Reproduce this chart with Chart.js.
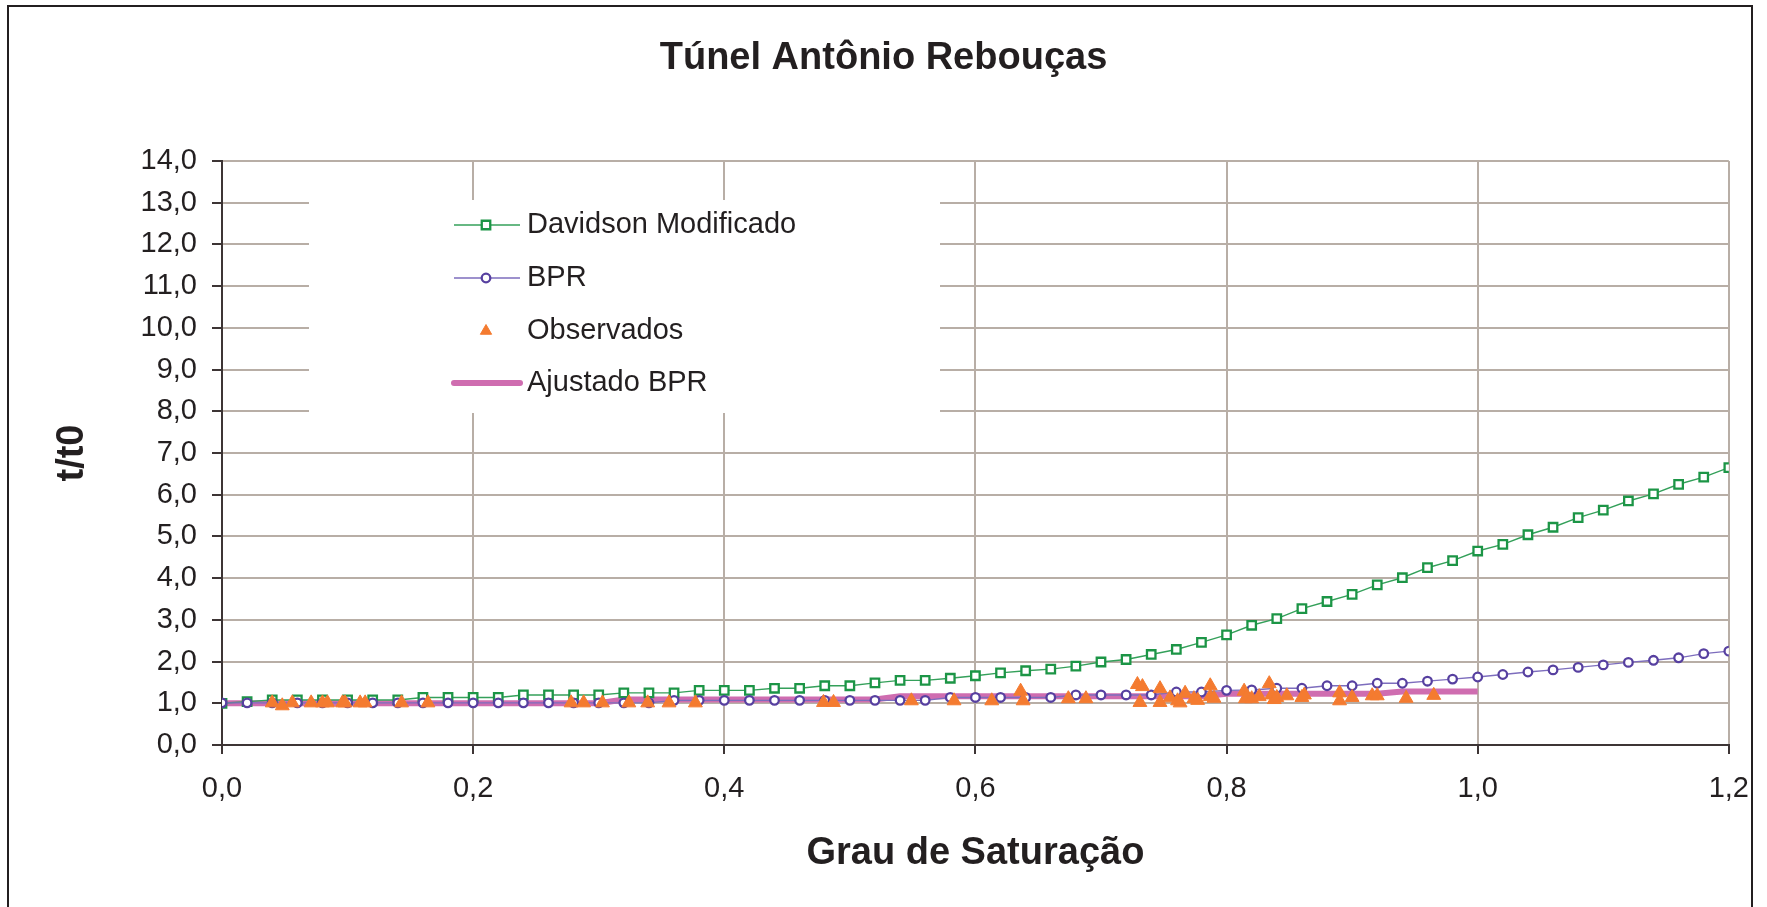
<!DOCTYPE html>
<html>
<head>
<meta charset="utf-8">
<title>Túnel Antônio Rebouças</title>
<script src="https://cdn.jsdelivr.net/npm/chart.js@4/dist/chart.umd.min.js"></script>
<style>
  html, body { margin: 0; padding: 0; background: #ffffff; }
  #wrap { width: 1767px; height: 907px; }
</style>
</head>
<body>
<div id="wrap"><canvas id="grafico" width="1767" height="907"></canvas></div>
<script>
// grau de saturacao (eixo x) usado pelas curvas teoricas
const saturacao = [
  0.00, 0.02, 0.04, 0.06, 0.08, 0.10, 0.12, 0.14, 0.16, 0.18,
  0.20, 0.22, 0.24, 0.26, 0.28, 0.30, 0.32, 0.34, 0.36, 0.38,
  0.40, 0.42, 0.44, 0.46, 0.48, 0.50, 0.52, 0.54, 0.56, 0.58,
  0.60, 0.62, 0.64, 0.66, 0.68, 0.70, 0.72, 0.74, 0.76, 0.78,
  0.80, 0.82, 0.84, 0.86, 0.88, 0.90, 0.92, 0.94, 0.96, 0.98,
  1.00, 1.02, 1.04, 1.06, 1.08, 1.10, 1.12, 1.14, 1.16, 1.18, 1.20
];

const davidson = [
  1.00, 1.04, 1.08, 1.08, 1.08, 1.08, 1.08, 1.08, 1.14, 1.14,
  1.14, 1.14, 1.20, 1.20, 1.20, 1.20, 1.25, 1.25, 1.25, 1.31,
  1.31, 1.31, 1.36, 1.36, 1.42, 1.42, 1.49, 1.55, 1.55, 1.60,
  1.66, 1.73, 1.78, 1.82, 1.89, 1.99, 2.05, 2.17, 2.29, 2.46,
  2.64, 2.87, 3.03, 3.27, 3.44, 3.61, 3.84, 4.01, 4.25, 4.42,
  4.65, 4.81, 5.04, 5.22, 5.45, 5.63, 5.85, 6.02, 6.25, 6.42, 6.65
];

const bpr = [
  1.01, 1.01, 1.01, 1.01, 1.01, 1.01, 1.01, 1.01, 1.01, 1.01,
  1.01, 1.01, 1.01, 1.01, 1.01, 1.01, 1.01, 1.01, 1.07, 1.07,
  1.07, 1.07, 1.07, 1.07, 1.07, 1.07, 1.07, 1.07, 1.07, 1.14,
  1.14, 1.14, 1.14, 1.14, 1.20, 1.20, 1.20, 1.20, 1.27, 1.27,
  1.31, 1.32, 1.36, 1.36, 1.42, 1.42, 1.48, 1.48, 1.53, 1.58,
  1.63, 1.69, 1.75, 1.80, 1.86, 1.92, 1.98, 2.03, 2.09, 2.19, 2.25
];

// ajuste so vai ate saturacao 1,0
const ajustado = [
  1.00, 1.00, 1.00, 1.00, 1.00, 1.00, 1.00, 1.00, 1.00, 1.00,
  1.00, 1.00, 1.00, 1.00, 1.00, 1.00, 1.09, 1.09, 1.09, 1.09,
  1.09, 1.09, 1.09, 1.09, 1.09, 1.09, 1.09, 1.17, 1.17, 1.17,
  1.17, 1.17, 1.17, 1.17, 1.17, 1.17, 1.17, 1.17, 1.17, 1.17,
  1.23, 1.23, 1.23, 1.23, 1.23, 1.23, 1.23, 1.28, 1.28, 1.28, 1.28
];

// pontos observados em campo
const obsX = [
  0.040, 0.048, 0.056, 0.071, 0.080, 0.084, 0.096, 0.098, 0.110, 0.114,
  0.143, 0.164, 0.278, 0.288, 0.303, 0.324, 0.339, 0.356, 0.377,
  0.479, 0.487, 0.549, 0.583, 0.613, 0.636, 0.638, 0.674, 0.688,
  0.729, 0.733, 0.731, 0.747, 0.747, 0.755, 0.761, 0.763, 0.767, 0.774,
  0.777, 0.787, 0.787, 0.790,
  0.814, 0.815, 0.820, 0.826, 0.834, 0.836, 0.838, 0.840, 0.848, 0.860,
  0.862, 0.890, 0.890, 0.900, 0.916, 0.920, 0.943, 0.965
];
const obsY = [
  1.01, 0.94, 1.01, 1.01, 1.01, 1.01, 1.01, 1.01, 1.01, 1.01,
  1.01, 1.01, 1.01, 1.01, 1.01, 1.01, 1.01, 1.01, 1.01,
  1.02, 1.02, 1.06, 1.06, 1.06, 1.29, 1.06, 1.11, 1.11,
  1.45, 1.40, 1.02, 1.35, 1.02, 1.13, 1.06, 1.01, 1.24, 1.11,
  1.07, 1.42, 1.16, 1.12,
  1.29, 1.11, 1.11, 1.16, 1.47, 1.20, 1.09, 1.14, 1.18, 1.14,
  1.20, 1.25, 1.06, 1.14, 1.18, 1.18, 1.12, 1.19
];

const fonte = '"Liberation Sans", Arial, sans-serif';
const corTexto = '#231f20';

function pares(xs, ys) {
  return ys.map((v, i) => ({ x: xs[i], y: v }));
}

function virgula(value) {
  return Number(value).toFixed(1).replace('.', ',');
}

// moldura preta em volta do grafico
const moldura = {
  id: 'moldura',
  beforeDraw(chart) {
    const ctx = chart.ctx;
    ctx.save();
    ctx.fillStyle = '#ffffff';
    ctx.fillRect(0, 0, chart.width, chart.height);
    ctx.strokeStyle = '#231f20';
    ctx.lineWidth = 2;
    ctx.strokeRect(8, 6, 1744, 940);
    ctx.restore();
  }
};

// legenda dentro da area do grafico, com fundo branco
const legendaCaixa = {
  id: 'legendaCaixa',
  beforeDatasetsDraw(chart) {
    const ctx = chart.ctx;
    const linhas = [225, 278, 331, 383];
    ctx.save();
    ctx.fillStyle = '#ffffff';
    ctx.fillRect(309, 200, 631, 213);

    chart.data.datasets.forEach((ds, k) => {
      const y = linhas[k];
      if (ds.showLine !== false) {
        ctx.beginPath();
        ctx.strokeStyle = ds.borderColor;
        ctx.lineWidth = ds.borderWidth;
        ctx.lineCap = ds.borderWidth > 2 ? 'round' : 'butt';
        ctx.moveTo(454, y);
        ctx.lineTo(520, y);
        ctx.stroke();
      }
      if (ds.pointRadius > 0) {
        const r = ds.pointStyle === 'triangle' ? 6.5 : ds.pointRadius;
        ctx.fillStyle = ds.pointBackgroundColor;
        ctx.strokeStyle = ds.pointBorderColor;
        ctx.lineWidth = ds.pointBorderWidth;
        ctx.beginPath();
        Chart.helpers.drawPoint(ctx, {
          pointStyle: ds.pointStyle,
          radius: r,
          borderWidth: ds.pointBorderWidth
        }, 486, y);
      }
      ctx.fillStyle = corTexto;
      ctx.font = '29px ' + fonte;
      ctx.textAlign = 'left';
      ctx.textBaseline = 'middle';
      ctx.fillText(ds.label, 527, y);
    });
    ctx.restore();
  }
};

const ctx = document.getElementById('grafico').getContext('2d');
const grafico = new Chart(ctx, {
  type: 'line',
  data: {
    datasets: [
      {
        label: 'Davidson Modificado',
        data: pares(saturacao, davidson),
        borderColor: '#34a05a',
        borderWidth: 1.4,
        pointStyle: 'rect',
        pointRadius: 6,
        pointBorderWidth: 2.3,
        pointBorderColor: '#1c9546',
        pointBackgroundColor: '#ffffff',
        order: 2
      },
      {
        label: 'BPR',
        data: pares(saturacao, bpr),
        borderColor: '#7d6dbd',
        borderWidth: 1.4,
        pointStyle: 'circle',
        pointRadius: 4.3,
        pointBorderWidth: 2.3,
        pointBorderColor: '#5740a0',
        pointBackgroundColor: '#ffffff',
        order: 1
      },
      {
        label: 'Observados',
        data: pares(obsX, obsY),
        showLine: false,
        borderColor: '#f47b30',
        backgroundColor: '#f47b30',
        pointStyle: 'triangle',
        pointRadius: 8,
        pointBorderWidth: 1,
        pointBorderColor: '#f47b30',
        pointBackgroundColor: '#f47b30',
        order: 0
      },
      {
        label: 'Ajustado BPR',
        data: pares(saturacao, ajustado),
        borderColor: '#cf6db0',
        borderWidth: 6,
        pointRadius: 0,
        order: 3
      }
    ]
  },
  options: {
    responsive: false,
    animation: false,
    devicePixelRatio: 1,
    events: [],
    layout: {
      padding: { left: 37, right: 37, top: 0, bottom: 0 }
    },
    elements: {
      line: { tension: 0 }
    },
    plugins: {
      legend: { display: false },
      tooltip: { enabled: false },
      title: {
        display: true,
        text: 'Túnel Antônio Rebouças',
        color: corTexto,
        font: { family: fonte, size: 38, weight: 'bold' },
        padding: { top: 36, bottom: 79.4 }
      }
    },
    scales: {
      x: {
        type: 'linear',
        min: 0,
        max: 1.2,
        afterFit(scale) { scale.height = 162; },
        ticks: {
          stepSize: 0.2,
          maxRotation: 0,
          autoSkip: false,
          padding: 18,
          color: corTexto,
          font: { family: fonte, size: 29 },
          callback: virgula
        },
        grid: {
          color: '#b8aea6',
          lineWidth: 2,
          tickLength: 9,
          tickColor: '#3d3535'
        },
        border: { color: '#3d3535', width: 2 },
        title: {
          display: true,
          text: 'Grau de Saturação',
          color: corTexto,
          font: { family: fonte, size: 38, weight: 'bold' },
          padding: { top: 0, bottom: 31 }
        }
      },
      y: {
        min: 0,
        max: 14,
        afterFit(scale) { scale.width = 185; },
        ticks: {
          stepSize: 1,
          autoSkip: false,
          padding: 15,
          color: corTexto,
          font: { family: fonte, size: 29 },
          callback: virgula
        },
        grid: {
          color: '#b8aea6',
          lineWidth: 2,
          tickLength: 10,
          tickColor: '#3d3535'
        },
        border: { color: '#3d3535', width: 2 },
        title: {
          display: true,
          text: 't/t0',
          color: corTexto,
          font: { family: fonte, size: 38, weight: 'bold' },
          padding: { top: 13, bottom: 0 }
        }
      }
    }
  },
  plugins: [moldura, legendaCaixa]
});
</script>
</body>
</html>
